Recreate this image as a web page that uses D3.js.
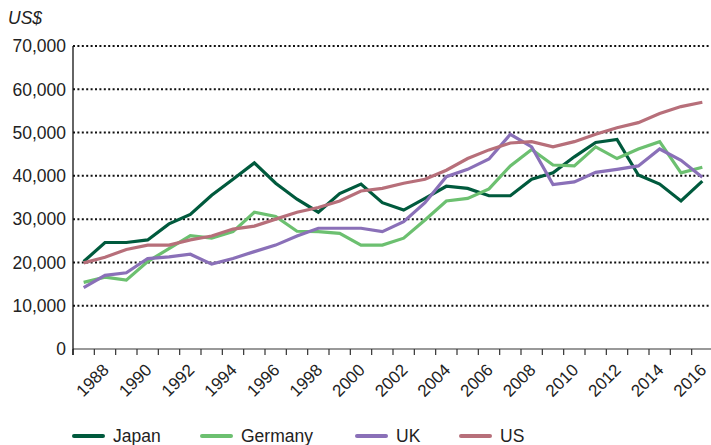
<!DOCTYPE html>
<html><head><meta charset="utf-8">
<script src="https://cdn.jsdelivr.net/npm/d3@7"></script>
<style>
html,body{margin:0;padding:0;background:#fff;}
svg{display:block;}
text{font-family:"Liberation Sans",Arial,sans-serif;fill:#222;}
</style></head>
<body>
<svg id="chart" width="711" height="445"></svg>
<script>
const years = d3.range(1987, 2017);
const tickLabels = ["1988","1990","1992","1994","1996","1998","2000","2002","2004","2006","2008","2010","2012","2014","2016"];
const yTicks = [0,10000,20000,30000,40000,50000,60000,70000];
const japan = [20200,24600,24600,25200,28900,31100,35500,39200,43000,38300,34600,31600,35900,38100,33800,32100,34800,37600,37100,35400,35400,39200,40700,44400,47700,48400,40200,38100,34200,38800];
const germany = [15400,16600,15900,20200,23200,26200,25600,27100,31600,30600,27200,27100,26700,24000,24000,25600,29800,34200,34800,37000,42300,46100,42500,42300,46700,44000,46200,47900,40700,42000];
const uk = [14200,17000,17600,20900,21300,21900,19600,20900,22500,24000,26100,27900,27900,27900,27100,29400,33800,39800,41500,43900,49600,46700,38000,38600,40800,41500,42300,46200,43600,39700];
const us = [19900,21200,23000,24000,24000,25200,26100,27700,28400,30000,31600,32700,34200,36500,37100,38300,39200,41300,44000,46000,47600,47900,46700,47900,49600,51100,52300,54400,56000,57000];
const seriesNames = ["Japan","Germany","UK","US"];
const seriesColors = ["#005a3d","#6cc070","#8a70b8","#b76f7a"];
const seriesData = [japan, germany, uk, us];

(function(){
const svg = d3.select("#chart");
const mL = 73, mR = 713, mT = 46, mB = 349;
const x = d3.scaleBand().domain(years).range([mL, mR]);
const y = d3.scaleLinear().domain([0,70000]).range([mB, mT]);

svg.append("g").selectAll("line").data(yTicks.filter(d=>d>0)).join("line")
  .attr("x1", mL).attr("x2", 711)
  .attr("y1", d=>y(d)).attr("y2", d=>y(d))
  .attr("stroke","#111").attr("stroke-width",2).attr("stroke-dasharray","2,2.4");

svg.append("g").selectAll("text").data(yTicks).join("text")
  .attr("x", 66).attr("y", d=>y(d)).attr("dy","0.36em")
  .attr("text-anchor","end").style("font-size","17.5px")
  .text(d=>d3.format(",")(d));

svg.append("text").attr("x",8).attr("y",24).style("font-size","17.5px").style("font-style","italic").text("US$");

svg.append("line").attr("x1",mL).attr("x2",711).attr("y1",mB).attr("y2",mB)
  .attr("stroke","#777").attr("stroke-width",1.5);
const bounds = years.map(d=>x(d)).concat([x(2016)+x.bandwidth()]);
svg.append("g").selectAll("line").data(bounds).join("line")
  .attr("x1",d=>d).attr("x2",d=>d).attr("y1",mB).attr("y2",mB+6)
  .attr("stroke","#333").attr("stroke-width",1.2);
svg.append("line").attr("x1",mL).attr("x2",mL).attr("y1",mT).attr("y2",mB+6)
  .attr("stroke","#111").attr("stroke-width",1.3);

svg.append("g").selectAll("text").data(tickLabels).join("text")
  .attr("transform", d=>`translate(${x(+d)+x.bandwidth()/2+5},${mB+22}) rotate(-45)`)
  .attr("text-anchor","end").style("font-size","17px")
  .text(d=>d);

const line = d3.line().x((d,i)=>x(years[i])+x.bandwidth()/2).y(d=>y(d));
svg.append("g").selectAll("path").data(seriesData).join("path")
  .attr("d", d=>line(d)).attr("fill","none")
  .attr("stroke",(d,i)=>seriesColors[i]).attr("stroke-width",3.2)
  .attr("stroke-linejoin","miter");

const legX = [74, 202, 357, 461];
const leg = svg.append("g").selectAll("g").data(seriesNames).join("g")
  .attr("transform",(d,i)=>`translate(${legX[i]},436)`);
leg.append("line").attr("x1",0).attr("x2",29).attr("y1",0).attr("y2",0)
  .attr("stroke",(d,i)=>seriesColors[i]).attr("stroke-width",4).attr("stroke-linecap","round");
leg.append("text").attr("x",39).attr("y",0).attr("dy","0.36em").style("font-size","17.5px").text(d=>d);
})();
</script>
</body></html>
